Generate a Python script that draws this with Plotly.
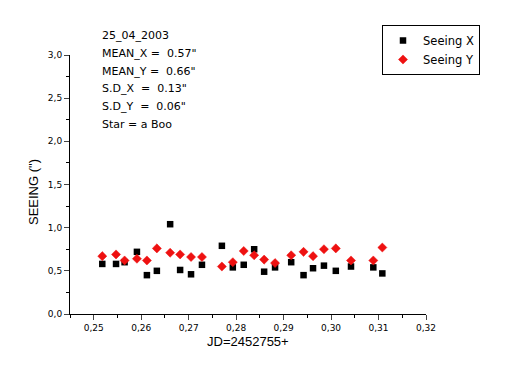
import plotly.graph_objects as go

jd = [0.2518, 0.2547, 0.2565, 0.2591, 0.2612, 0.2633, 0.2661, 0.2682, 0.2705, 0.2728,
      0.2770, 0.2793, 0.2816, 0.2838, 0.2859, 0.2882, 0.2916, 0.2942, 0.2962, 0.2985,
      0.3010, 0.3042, 0.3089, 0.3108]
seeing_x = [0.58, 0.58, 0.60, 0.72, 0.45, 0.50, 1.04, 0.51, 0.46, 0.57,
            0.79, 0.54, 0.57, 0.75, 0.49, 0.54, 0.60, 0.45, 0.53, 0.56,
            0.50, 0.55, 0.54, 0.47]
seeing_y = [0.67, 0.69, 0.62, 0.64, 0.62, 0.76, 0.71, 0.69, 0.66, 0.66,
            0.55, 0.60, 0.73, 0.68, 0.63, 0.59, 0.68, 0.72, 0.67, 0.75,
            0.76, 0.62, 0.62, 0.77]
info_lines = ['25_04_2003', 'MEAN_X =  0.57"', 'MEAN_Y =  0.66"',
              'S.D_X  =  0.13"', 'S.D_Y  =  0.06"', 'Star = a Boo']

FONT = "Liberation Sans, Arial, sans-serif"
WIDE = "DejaVu Sans, sans-serif"

fig = go.Figure()
fig.add_trace(go.Scatter(x=jd, y=seeing_x, mode='markers', name='Seeing X',
                         marker=dict(symbol='square', size=6.5, color='black')))
fig.add_trace(go.Scatter(x=jd, y=seeing_y, mode='markers', name='Seeing Y',
                         marker=dict(symbol='diamond', size=7, color='#ee1111',
                                     line=dict(width=0.5, color='#ee1111'))))

# page body has an 8px margin: work in reference pixel coords minus 8
OFF = 8
W, H = 513, 382
PL, PR, PT, PB = 70, 426, 55, 314   # plot area in reference pixels
L, T = PL - OFF, PT - OFF
R = W - (PR - OFF)
B = H - (PB - OFF)
PW, PH = PR - PL, PB - PT


def px(x):
    return (x - PL) / PW


def py(y):
    return (PB - y) / PH


fig.update_layout(
    width=W, height=H,
    margin=dict(l=L, r=R, t=T, b=B, autoexpand=False),
    paper_bgcolor='white', plot_bgcolor='white',
    separators=',.',
    font=dict(family=FONT, color='black'),
    showlegend=True,
    legend=dict(x=px(382), y=py(25),
                xanchor='left', yanchor='top',
                bordercolor='black', borderwidth=1, bgcolor='white',
                font=dict(size=11.5, family=WIDE), itemwidth=30,
                tracegroupgap=0),
    xaxis=dict(range=[0.245, 0.32], tickmode='array',
               tickvals=[0.25, 0.26, 0.27, 0.28, 0.29, 0.30, 0.31, 0.32],
               tickformat='.2f', ticks='outside', ticklen=5, tickwidth=1,
               showline=True, linecolor='black', linewidth=1, showgrid=False,
               zeroline=False, tickfont=dict(size=9, family=WIDE),
               minor=dict(tickvals=[0.245, 0.255, 0.265, 0.275, 0.285, 0.295, 0.305, 0.315],
                          ticks='outside', ticklen=3, tickcolor='black')),
    yaxis=dict(range=[0, 3.0], tickmode='array',
               tickvals=[0, 0.5, 1.0, 1.5, 2.0, 2.5, 3.0],
               tickformat='.1f', ticks='outside', ticklen=5, tickwidth=1,
               showline=True, linecolor='black', linewidth=1, showgrid=False,
               zeroline=False, tickfont=dict(size=9, family=WIDE),
               minor=dict(tickvals=[0.25, 0.75, 1.25, 1.75, 2.25, 2.75],
                          ticks='outside', ticklen=3, tickcolor='black')),
)

annos = []
for i, line in enumerate(info_lines):
    annos.append(dict(text=line, xref='paper', yref='paper',
                      x=px(100), y=py(35.7 + i * 17.7),
                      xanchor='left', yanchor='middle', showarrow=False,
                      font=dict(size=11, family=WIDE)))
annos.append(dict(text='JD=2452755+', xref='paper', yref='paper',
                  x=px(248), y=py(341),
                  xanchor='center', yanchor='middle', showarrow=False,
                  font=dict(size=13, family=FONT)))
annos.append(dict(text='SEEING (")', xref='paper', yref='paper',
                  x=px(33), y=py(192),
                  xanchor='center', yanchor='middle', showarrow=False,
                  textangle=-90, font=dict(size=13, family=FONT)))
fig.update_layout(annotations=annos)

fig.write_html("out.html")
